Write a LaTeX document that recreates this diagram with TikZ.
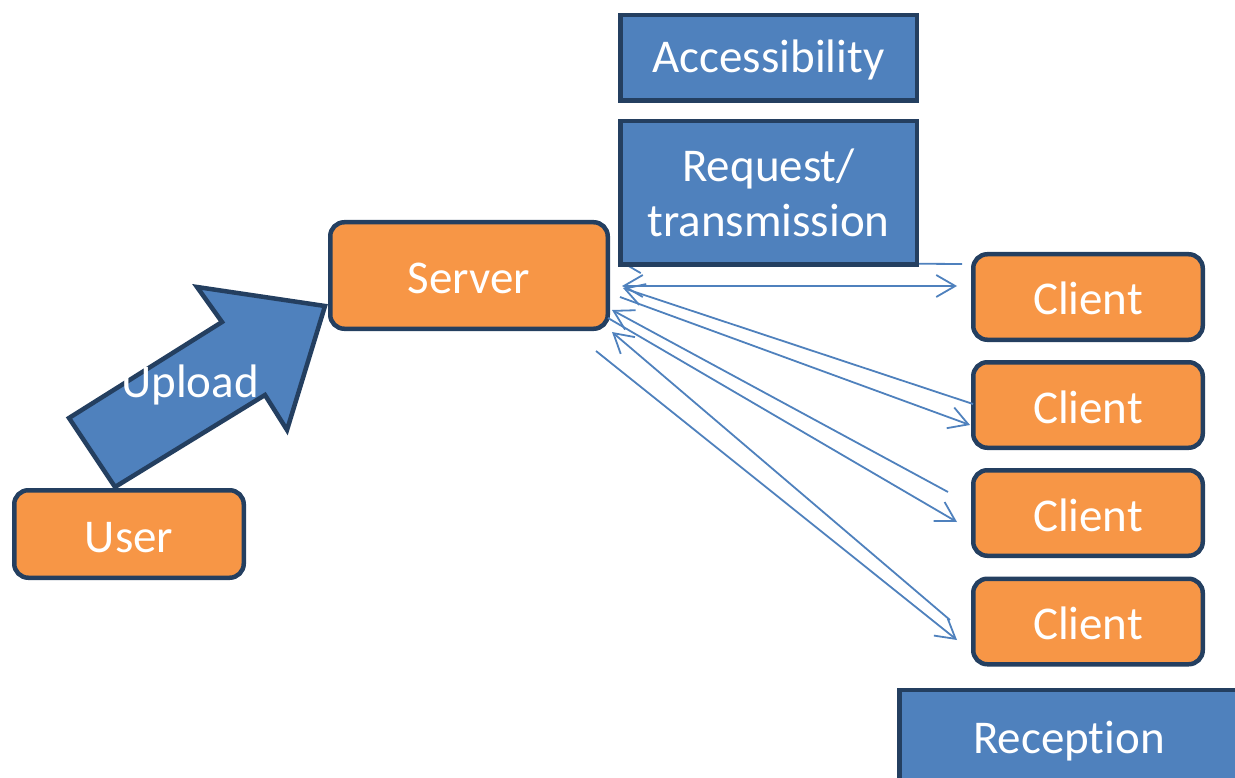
\documentclass[tikz,border=0pt]{standalone}
\usepackage{fontspec}
\setmainfont{Carlito}[Ligatures=CommonOff]
\usetikzlibrary{arrows.meta}
\definecolor{boxorange}{HTML}{F79646}
\definecolor{boxblue}{HTML}{4F81BD}
\definecolor{boxedge}{HTML}{243F60}
\definecolor{linkblue}{HTML}{4F81BD}
\tikzset{
  base/.style={draw=boxedge, line width=4.5pt, text=white, inner sep=0pt,
    font=\fontsize{47}{55}\selectfont},
  oneline/.style={text height=36pt, text depth=0pt},
  oneline low/.style={text height=30pt, text depth=0pt},
  orangebox/.style={base, oneline, fill=boxorange, rounded corners=14pt},
  bluebox/.style={base, fill=boxblue},
  conn/.style={draw=linkblue, line width=1.8pt, arrows={-Straight Barb[length=19pt,width=22pt,line width=1.8pt]}},
  conn2/.style={draw=linkblue, line width=1.8pt, arrows={Straight Barb[length=19pt,width=22pt,line width=1.8pt]-Straight Barb[length=19pt,width=22pt,line width=1.8pt]}},
  bigarrow/.style={fill=boxblue, draw=boxedge, line width=4.5pt, line join=miter}
}
\begin{document}
\begin{tikzpicture}[x=1pt,y=-1pt]
\useasboundingbox (0,0) rectangle (1235,778);
% upload arrow
\draw[bigarrow] (69,418) -- (115,487) -- (265,395) -- (287,430) -- (325,306) -- (197,287) -- (222,322) -- cycle;
\node[text=white, font=\fontsize{47}{55}\selectfont, anchor=base] (upload) at (190,397) {Upload};
% nodes
\node[orangebox, minimum width=277.5pt, minimum height=106.5pt] (server) at (469,275.5) {Server};
\node[orangebox, minimum width=229.5pt, minimum height=87.5pt] (user) at (129,534) {User};
\node[orangebox, minimum width=229.5pt, minimum height=85.5pt] (c1) at (1088,297) {Client};
\node[orangebox, minimum width=229.5pt, minimum height=85.5pt] (c2) at (1088,405) {Client};
\node[orangebox, minimum width=229.5pt, minimum height=85.5pt] (c3) at (1088,513) {Client};
\node[orangebox, minimum width=229.5pt, minimum height=85.5pt] (c4) at (1088,621.5) {Client};
\node[bluebox, oneline low, minimum width=296.5pt, minimum height=85.5pt] (acc) at (768.5,58) {Accessibility};
% connector end points
\coordinate (s1) at (620,262);  \coordinate (k1) at (962,264);
\coordinate (s2) at (622,286);  \coordinate (k2) at (957,286);
\coordinate (s3) at (620,297);  \coordinate (k3) at (970,425);
\coordinate (s4) at (623,288);  \coordinate (k4) at (973,404);
\coordinate (s5) at (612,310);  \coordinate (k5) at (948,492);
\coordinate (s6) at (608,318);  \coordinate (k6) at (957,522);
\coordinate (s7) at (612,332);  \coordinate (k7) at (950,620);
\coordinate (s8) at (596,351);  \coordinate (k8) at (957,640);
\draw[conn] (k1) -- (s1);
\draw[conn2] (s2) -- (k2);
\draw[conn] (s3) -- (k3);
\draw[conn] (k4) -- (s4);
\draw[conn] (k5) -- (s5);
\draw[conn] (s6) -- (k6);
\draw[conn] (k7) -- (s7);
\draw[conn] (s8) -- (k8);
\node[bluebox, align=center, minimum width=296.5pt, minimum height=143.5pt] (req) at (768.5,193) {Request/\\transmission};
\node[bluebox, oneline low, minimum width=339.5pt, minimum height=96pt] (rec) at (1069,738) {Reception};
\end{tikzpicture}
\end{document}
